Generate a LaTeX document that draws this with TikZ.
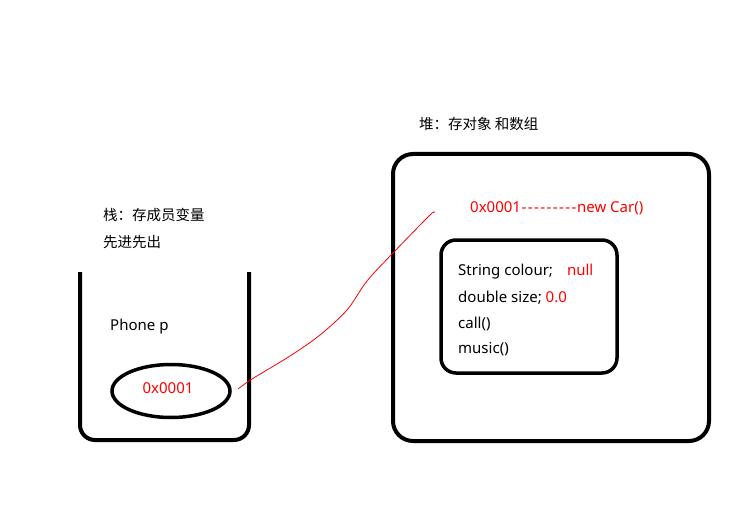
\documentclass[tikz,border=0pt]{standalone}
\usepackage{fontspec}
\setmainfont{Noto Sans}
\newfontfamily\cjkfont{Noto Sans CJK SC}
\usetikzlibrary{shapes.geometric}
\newcommand\hy{\kern0.7pt-\kern0.7pt}
\begin{document}
\begin{tikzpicture}[x=1pt,y=-1pt,
  thick box/.style={line width=4pt,rounded corners=16pt},
  lbl/.style={inner sep=0pt,anchor=west,font=\fontsize{15}{17}\selectfont},
  cjk/.style={inner sep=0pt,anchor=west,font=\cjkfont\fontsize{14.5}{16}\selectfont},
  redlbl/.style={lbl,text=red}]
\useasboundingbox (0,0) rectangle (742,516);
% stack
\draw[line width=4pt,rounded corners=15pt] (80,272) -- (80,440) -- (249,440) -- (249,272);
\node[cjk] (st1) at (103,215) {栈：存成员变量};
\node[cjk] (st2) at (103,242) {先进先出};
\node[lbl] (php) at (110,327) {Phone p};
\node[draw,ellipse,line width=3.5pt,minimum width=118pt,minimum height=53pt,inner sep=0pt] (ell) at (171,391) {};
\node[redlbl,anchor=center] (addr) at (168,388) {0x0001};
% heap
\node[cjk] (hp) at (419,124) {堆：存对象 和数组};
\draw[thick box,rounded corners=20pt] (393,154) rectangle (709,441);
\node[redlbl] (obj) at (470,208) {0x0001\hy\hy\hy\hy\hy\hy\hy\hy\hy new Car()};
\draw[thick box,line width=3.5pt,rounded corners=15pt] (441,240) rectangle (617,373);
\node[lbl] (f1) at (458,272) {String colour;\hspace{14pt}\textcolor{red}{null}};
\node[lbl] (f2) at (458,298) {double size; \textcolor{red}{0.0}};
\node[lbl] (f3) at (458,324) {call()};
\node[lbl] (f4) at (458,349) {music()};
% connector
\coordinate (cs) at (238,389);
\coordinate (ce) at (434,213);
\draw[red,line width=0.8pt] plot[smooth,tension=0.5] coordinates {(cs) (252,379) (290,356) (320,335) (347,310) (367,281) (393,253) (430,215) (ce)};
\end{tikzpicture}
\end{document}
